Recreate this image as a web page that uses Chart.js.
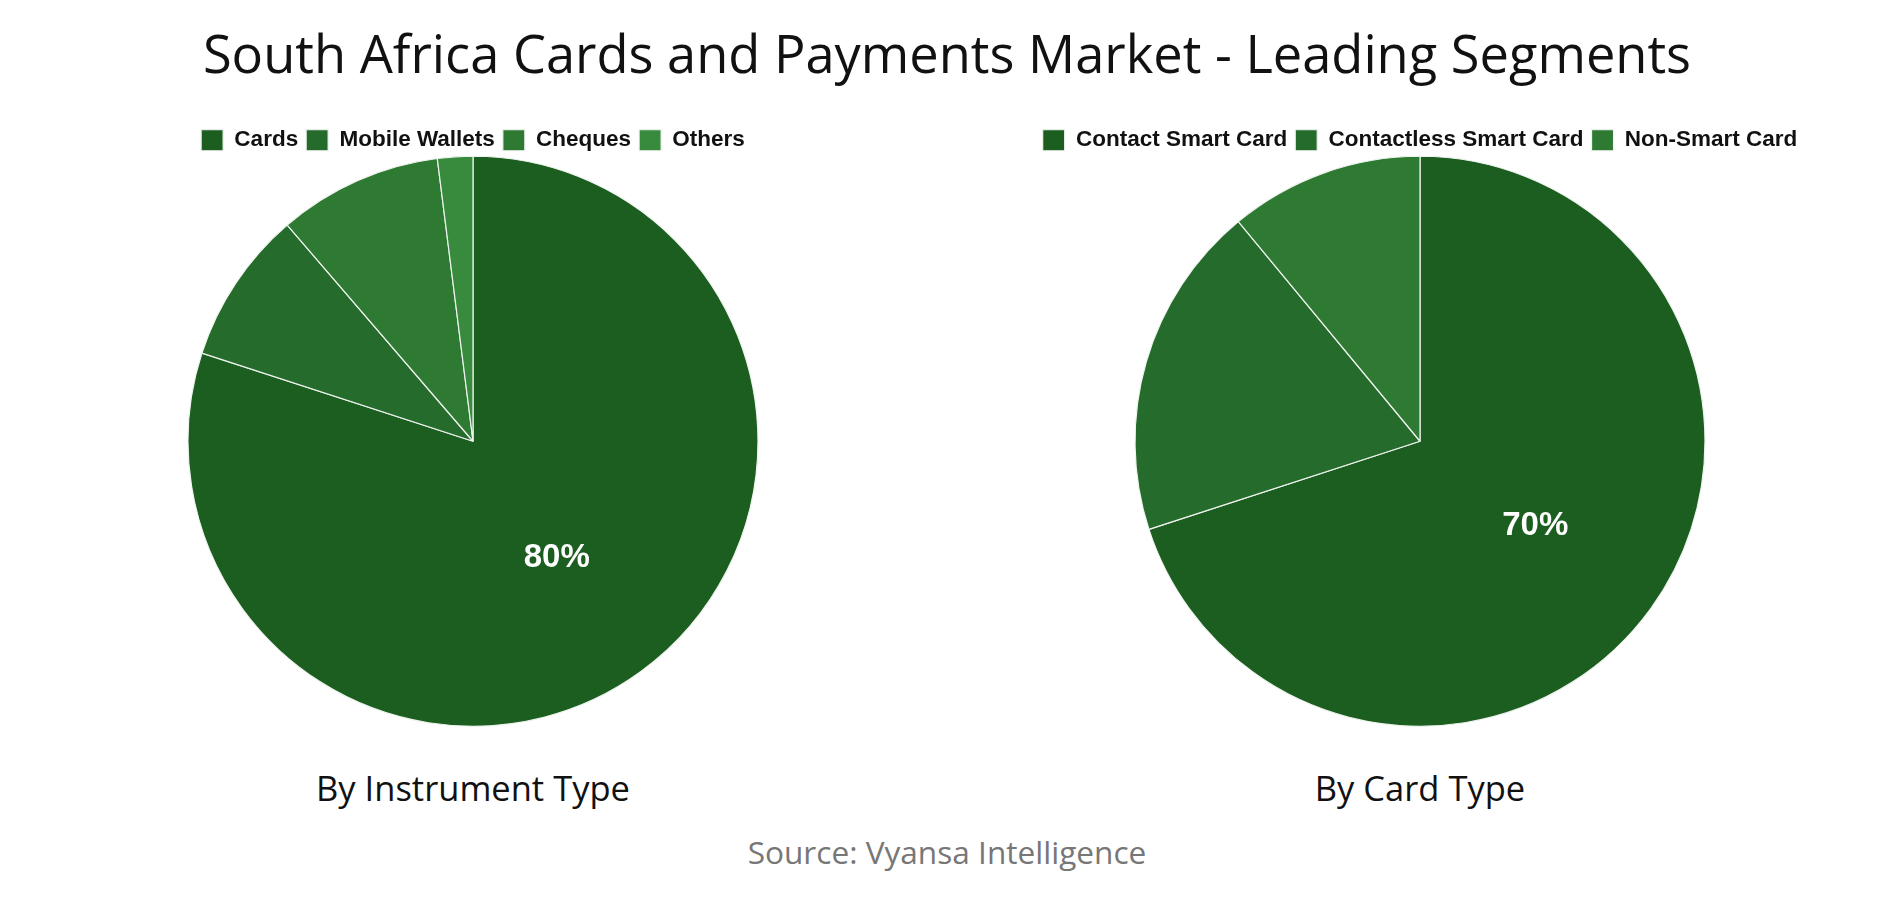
<!DOCTYPE html>
<html lang="en">
<head>
    <meta charset="UTF-8">
    <title>South Africa Cards and Payments Market - Leading Segments</title>
    <script src="https://cdn.jsdelivr.net/npm/chart.js@4.4.1/dist/chart.umd.min.js"></script>
    <style>
        html, body {margin: 0; padding: 0; background: #ffffff; overflow: hidden;}
        #page {position: relative; width: 1894px; height: 900px;}
        .txt {position: absolute; left: 0; width: 100%; text-align: center; font-family: "Open Sans", sans-serif; white-space: nowrap;}
        #title {top: 17px; font-size: 52.4px; color: #111;}
        .sub {position: absolute; width: 600px; text-align: center; font-family: "Open Sans", sans-serif; font-size: 34.5px; color: #111; top: 764px;}
        #source {top: 830px; font-size: 31.6px; color: #777;}
        .box {position: absolute; top: 121px; width: 800px; height: 610px;}
    </style>
</head>
<body>
<div id="page">
    <div id="title" class="txt">South Africa Cards and Payments Market - Leading Segments</div>

    <div class="box" style="left: 73px;"><canvas id="instrument"></canvas></div>
    <div class="box" style="left: 1020px;"><canvas id="cardType"></canvas></div>

    <div class="sub" style="left: 173px;">By Instrument Type</div>
    <div class="sub" style="left: 1120px;">By Card Type</div>

    <div id="source" class="txt">Source: Vyansa Intelligence</div>
</div>

<script>
    // data (percent shares)
    const instrumentLabels = ['Cards', 'Mobile Wallets', 'Cheques', 'Others'];
    const instrumentValues = [80, 8.7, 9.3, 2];

    const cardTypeLabels = ['Contact Smart Card', 'Contactless Smart Card', 'Non-Smart Card'];
    const cardTypeValues = [70, 19, 11];

    const greens = ['#1b5e20', '#256b2b', '#2e7a33', '#388a3d'];

    // only big slices get a percentage on them
    const pctLabels = {
        id: 'pctLabels',
        afterDatasetsDraw(chart) {
            const ctx = chart.ctx;
            const ds = chart.data.datasets[0];
            chart.getDatasetMeta(0).data.forEach(function (arc, i) {
                if (ds.data[i] < 25) return;
                const p = arc.getCenterPoint();
                ctx.save();
                ctx.fillStyle = '#ffffff';
                ctx.font = 'bold 33px "Liberation Sans", Arial, sans-serif';
                ctx.textAlign = 'center';
                ctx.textBaseline = 'middle';
                ctx.fillText(Math.round(ds.data[i]) + '%', p.x, p.y + 1);
                ctx.restore();
            });
        }
    };

    function newPie(id, labels, values) {
        return new Chart(document.getElementById(id), {
            type: 'pie',
            data: {
                labels: labels,
                datasets: [{
                    data: values,
                    backgroundColor: greens.slice(0, values.length),
                    borderColor: '#eef3ee',
                    borderWidth: 1.2
                }]
            },
            options: {
                responsive: true,
                maintainAspectRatio: false,
                animation: false,
                radius: 285,
                layout: {padding: {bottom: 10}},
                plugins: {
                    legend: {
                        position: 'top',
                        labels: {
                            color: '#111',
                            boxWidth: 22,
                            boxHeight: 21,
                            padding: 8,
                            font: {family: '"Liberation Sans", Arial, sans-serif', size: 22.5, weight: 'bold'}
                        }
                    },
                    tooltip: {enabled: false}
                }
            },
            plugins: [pctLabels]
        });
    }

    newPie('instrument', instrumentLabels, instrumentValues);
    newPie('cardType', cardTypeLabels, cardTypeValues);
</script>
</body>
</html>
